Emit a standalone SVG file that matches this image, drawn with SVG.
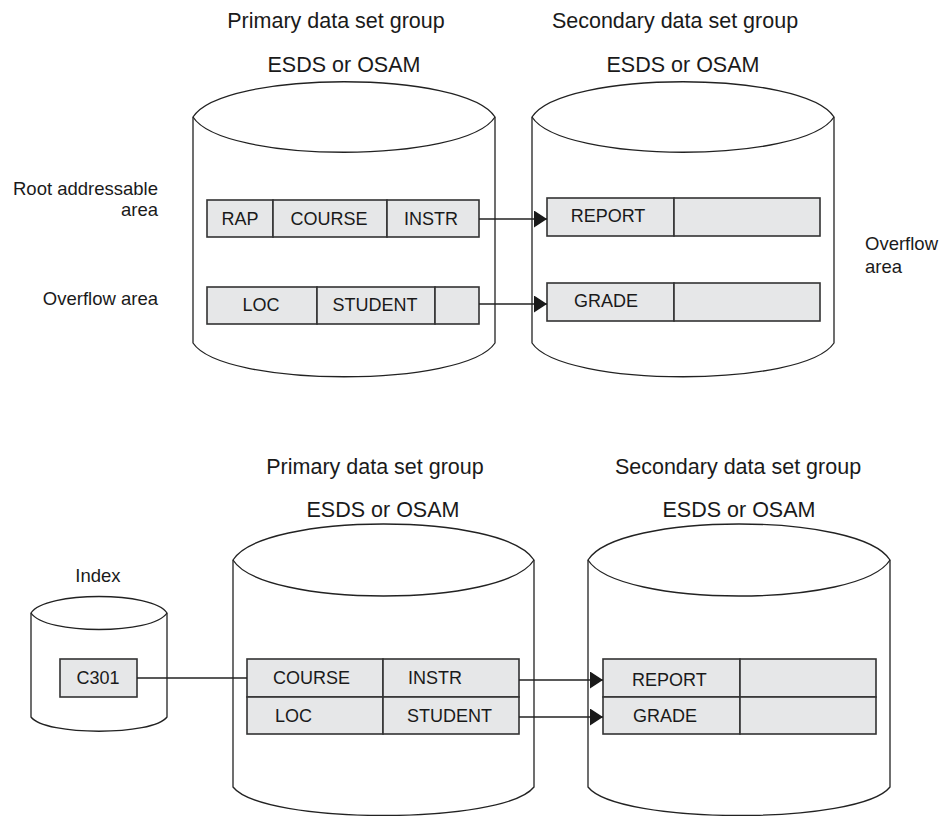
<svg xmlns="http://www.w3.org/2000/svg" width="939" height="816" viewBox="0 0 939 816">
<defs>
<style>
.cyl{fill:#fff;stroke:#222;stroke-width:1.3}
.arc{fill:none;stroke:#222;stroke-width:1.3}
.cell{fill:#e6e7e8;stroke:#333;stroke-width:1.6}
.t{font-family:"Liberation Sans",Arial,sans-serif;fill:#1a1a1a}
.h{font-size:21.5px;text-anchor:middle}
.r{font-size:18px}
.m{text-anchor:middle}
.lb{font-size:18.5px}
.ln{fill:none;stroke:#222;stroke-width:1.4}
</style>
<marker id="ah" markerUnits="userSpaceOnUse" markerWidth="14" markerHeight="18" refX="13" refY="8.5" orient="auto">
<path d="M0,0 L13,8.5 L0,17 Z" fill="#1a1a1a"/>
</marker>
</defs>
<rect width="939" height="816" fill="#fff"/>

<!-- Labels -->
<g id="labels">
<text class="t h" x="336" y="28">Primary data set group</text>
<text class="t h" x="344" y="72">ESDS or OSAM</text>
<text class="t h" x="675" y="28">Secondary data set group</text>
<text class="t h" x="683" y="72">ESDS or OSAM</text>
<text class="t lb" x="158" y="195" text-anchor="end">Root addressable</text>
<text class="t lb" x="158" y="216" text-anchor="end">area</text>
<text class="t lb" x="158" y="305" text-anchor="end">Overflow area</text>
<text class="t lb" x="865" y="250">Overflow</text>
<text class="t lb" x="865" y="273">area</text>
<text class="t h" x="375" y="474">Primary data set group</text>
<text class="t h" x="383" y="517">ESDS or OSAM</text>
<text class="t h" x="738" y="474">Secondary data set group</text>
<text class="t h" x="739" y="517">ESDS or OSAM</text>
<text class="t lb m" x="98" y="582">Index</text>
</g>

<!-- Top primary cylinder -->
<g id="top-primary">
<path class="cyl" d="M193,117 C223,70 465,70 495,117 L495,343 C465,388 223,388 193,343 Z"/>
<path class="arc" d="M193,117 C223,164 465,164 495,117"/>
<rect class="cell" x="207" y="200" width="66" height="37"/>
<rect class="cell" x="273" y="200" width="114" height="37"/>
<rect class="cell" x="387" y="200" width="92" height="37"/>
<text class="t r m" x="240" y="225">RAP</text>
<text class="t r m" x="329" y="225">COURSE</text>
<text class="t r m" x="431" y="225">INSTR</text>
<rect class="cell" x="207" y="287" width="110" height="37"/>
<rect class="cell" x="317" y="287" width="118" height="37"/>
<rect class="cell" x="435" y="287" width="44" height="37"/>
<text class="t r m" x="261" y="311">LOC</text>
<text class="t r m" x="375" y="311">STUDENT</text>
</g>

<!-- Top secondary cylinder -->
<g id="top-secondary">
<path class="cyl" d="M532,117 C562,70 804,70 834,117 L834,343 C804,388 562,388 532,343 Z"/>
<path class="arc" d="M532,117 C562,164 804,164 834,117"/>
<rect class="cell" x="547" y="198" width="127" height="38"/>
<rect class="cell" x="674" y="198" width="146" height="38"/>
<text class="t r m" x="608" y="222">REPORT</text>
<rect class="cell" x="547" y="283" width="127" height="38"/>
<rect class="cell" x="674" y="283" width="146" height="38"/>
<text class="t r m" x="606" y="307">GRADE</text>
</g>

<!-- Index cylinder -->
<g id="index">
<path class="cyl" d="M31,613 C45,591 153,591 167,613 L167,717 C153,736 45,736 31,717 Z"/>
<path class="arc" d="M31,613 C45,635 153,635 167,613"/>
<rect class="cell" x="60" y="659" width="77" height="38"/>
<text class="t r m" x="98" y="684">C301</text>
</g>

<!-- Bottom primary cylinder -->
<g id="bottom-primary">
<path class="cyl" d="M233,560 C263,512 504,512 534,560 L534,787 C504,825 263,825 233,787 Z"/>
<path class="arc" d="M233,560 C263,608 504,608 534,560"/>
<rect class="cell" x="247" y="659" width="136" height="38"/>
<rect class="cell" x="383" y="659" width="136" height="38"/>
<rect class="cell" x="247" y="697" width="136" height="37"/>
<rect class="cell" x="383" y="697" width="136" height="37"/>
<text class="t r" x="273" y="684">COURSE</text>
<text class="t r" x="408" y="684">INSTR</text>
<text class="t r" x="275" y="722">LOC</text>
<text class="t r" x="407" y="722">STUDENT</text>
</g>

<!-- Bottom secondary cylinder -->
<g id="bottom-secondary">
<path class="cyl" d="M588,560 C618,512 860,512 890,560 L890,787 C860,825 618,825 588,787 Z"/>
<path class="arc" d="M588,560 C618,608 860,608 890,560"/>
<rect class="cell" x="603" y="659" width="137" height="38"/>
<rect class="cell" x="740" y="659" width="136" height="38"/>
<rect class="cell" x="603" y="697" width="137" height="37"/>
<rect class="cell" x="740" y="697" width="136" height="37"/>
<text class="t r" x="632" y="686">REPORT</text>
<text class="t r" x="633" y="722">GRADE</text>
</g>

<!-- Connectors -->
<g id="connectors">
<line class="ln" x1="479" y1="219" x2="547" y2="219" marker-end="url(#ah)"/>
<line class="ln" x1="479" y1="304" x2="547" y2="304" marker-end="url(#ah)"/>
<line class="ln" x1="137" y1="678" x2="247" y2="678"/>
<line class="ln" x1="519" y1="680" x2="603" y2="680" marker-end="url(#ah)"/>
<line class="ln" x1="519" y1="717" x2="603" y2="717" marker-end="url(#ah)"/>
</g>
</svg>
